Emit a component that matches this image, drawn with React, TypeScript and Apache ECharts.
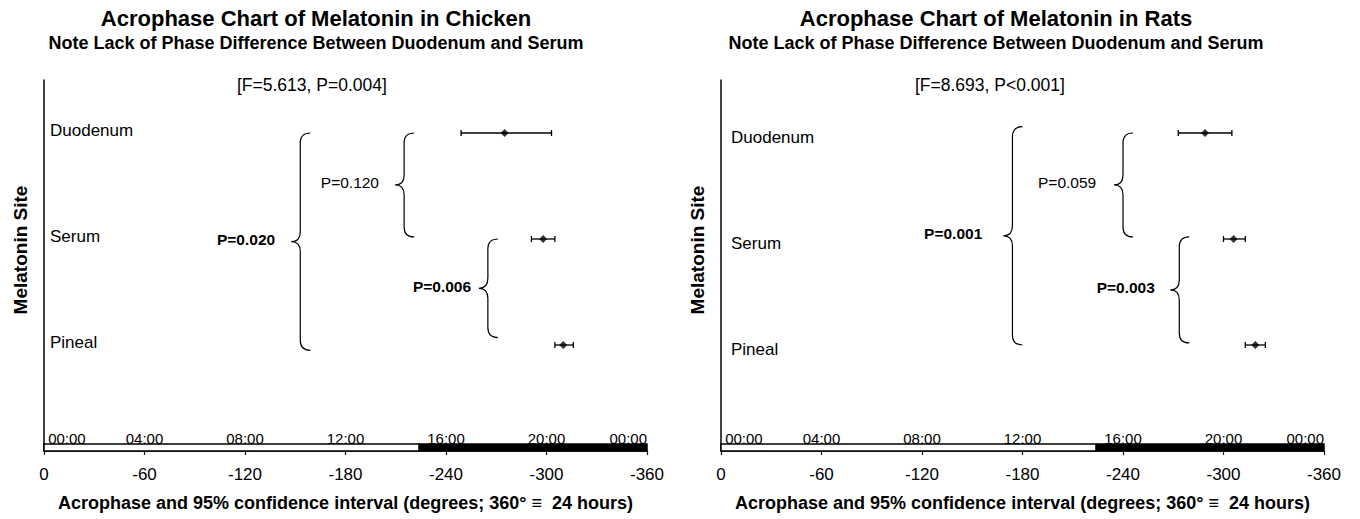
import React, { useEffect, useRef } from "react";
import * as echarts from "echarts";

const FONT = '"Liberation Sans", Arial, Helvetica, sans-serif';

// ---- data ----
const sites = ["Duodenum", "Serum", "Pineal"];
const sitePositions = [3, 2, 1];

const degreeTicks = [0, -60, -120, -180, -240, -300, -360];
const clockLabels = ["00:00", "04:00", "08:00", "12:00", "16:00", "20:00", "00:00"];

// photoperiod (light / dark) in degrees
const photoStart = [0, -224];
const photoEnd = [-224, -360];
const photoPhase = ["light", "dark"];

// Chicken
const chickenAcrophase = [-275, -298, -310];
const chickenCiLow = [-249, -291, -305];
const chickenCiHigh = [-303, -305, -316];
const chickenStat = "[F=5.613, P=0.004]";
const chickenBraceText = ["P=0.020", "P=0.120", "P=0.006"];
const chickenBraceBold = [true, false, true];
const chickenBraceAt = [-153, -215, -265];
const chickenBraceFrom = [3.0, 3.0, 2.0];
const chickenBraceTo = [0.95, 2.02, 1.07];
const chickenBraceLabelAt = [-138, -200, -255];

// Rats
const ratAcrophase = [-289, -306, -319];
const ratCiLow = [-273, -300, -313];
const ratCiHigh = [-305, -313, -325];
const ratStat = "[F=8.693, P<0.001]";
const ratBraceText = ["P=0.001", "P=0.059", "P=0.003"];
const ratBraceBold = [true, false, true];
const ratBraceAt = [-174, -240, -273.6];
const ratBraceFrom = [3.06, 3.0, 2.02];
const ratBraceTo = [1.0, 2.02, 1.02];
const ratBraceLabelAt = [-156, -224, -259];

const panels = [
  {
    title: "Acrophase Chart of Melatonin in Chicken",
    subtitle: "Note Lack of Phase Difference Between Duodenum and Serum",
    stat: chickenStat,
    acro: chickenAcrophase,
    low: chickenCiLow,
    high: chickenCiHigh,
    braceText: chickenBraceText,
    braceBold: chickenBraceBold,
    braceAt: chickenBraceAt,
    braceFrom: chickenBraceFrom,
    braceTo: chickenBraceTo,
    braceLabelAt: chickenBraceLabelAt,
  },
  {
    title: "Acrophase Chart of Melatonin in Rats",
    subtitle: "Note Lack of Phase Difference Between Duodenum and Serum",
    stat: ratStat,
    acro: ratAcrophase,
    low: ratCiLow,
    high: ratCiHigh,
    braceText: ratBraceText,
    braceBold: ratBraceBold,
    braceAt: ratBraceAt,
    braceFrom: ratBraceFrom,
    braceTo: ratBraceTo,
    braceLabelAt: ratBraceLabelAt,
  },
];

// ---- layout (styles only) ----
const layout = [
  { left: 44, titleX: 316, nameX: 20, labelMargin: 6, labelShift: -3, statX: 237 },
  { left: 721, titleX: 996, nameX: 697, labelMargin: 10, labelShift: 4, statX: 915 },
];
const GRID_TOP = 80;
const GRID_H = 371;
const GRID_W = 603;

function buildOption() {
  const grid: any[] = [];
  const xAxis: any[] = [];
  const yAxis: any[] = [];
  const series: any[] = [];
  const title: any[] = [];
  const graphic: any[] = [];

  panels.forEach((p, i) => {
    const L = layout[i];
    grid.push({ left: L.left, top: GRID_TOP, width: GRID_W, height: GRID_H, containLabel: false });

    title.push({
      text: p.title,
      subtext: p.subtitle,
      left: L.titleX,
      top: 7,
      textAlign: "center",
      padding: 0,
      itemGap: 5,
      textStyle: { fontFamily: FONT, fontSize: 22, fontWeight: "bold", color: "#000" },
      subtextStyle: { fontFamily: FONT, fontSize: 18, fontWeight: "bold", color: "#000" },
    });

    // degree axis
    xAxis.push({
      type: "value",
      gridIndex: i,
      min: -360,
      max: 0,
      interval: 60,
      inverse: true,
      position: "bottom",
      name: "Acrophase and 95% confidence interval (degrees; 360° \u2261  24 hours)",
      nameLocation: "middle",
      nameGap: 43,
      nameTextStyle: { fontFamily: FONT, fontSize: 18, fontWeight: "bold", color: "#000" },
      axisLine: { show: true, lineStyle: { color: "#000", width: 1.5 } },
      axisTick: { show: true, length: 4, lineStyle: { color: "#000", width: 1.2 } },
      axisLabel: {
        show: true,
        margin: 15,
        fontFamily: FONT,
        fontSize: 17,
        color: "#000",
        showMinLabel: true,
        showMaxLabel: true,
      },
      splitLine: { show: false },
    });
    // clock axis (same scale)
    xAxis.push({
      type: "value",
      gridIndex: i,
      min: -360,
      max: 0,
      interval: 60,
      inverse: true,
      position: "bottom",
      axisLine: { show: false },
      axisTick: { show: false },
      splitLine: { show: false },
      axisLabel: {
        show: true,
        inside: true,
        margin: 5,
        fontFamily: FONT,
        fontSize: 15,
        color: "#000",
        showMinLabel: true,
        showMaxLabel: true,
        alignMinLabel: "right",
        alignMaxLabel: "left",
        formatter: (v: number) => {
          const k = degreeTicks.indexOf(v);
          if (k < 0) return "";
          return k === 0 ? " " + clockLabels[k] : clockLabels[k];
        },
      },
    });

    yAxis.push({
      type: "value",
      gridIndex: i,
      min: 0,
      max: 3.5,
      interval: 1,
      axisLine: { show: true, lineStyle: { color: "#000", width: 1.5 } },
      axisTick: { show: false },
      splitLine: { show: false },
      axisLabel: {
        show: true,
        inside: true,
        margin: L.labelMargin,
        fontFamily: FONT,
        fontSize: 17,
        color: "#000",
        lineHeight: 20,
        verticalAlign: L.labelShift < 0 ? "bottom" : "top",
        padding: L.labelShift < 0 ? [0, 0, -7, 0] : [-6, 0, 0, 0],
        formatter: (v: number) => {
          const k = sitePositions.indexOf(v);
          return k >= 0 ? sites[k] : "";
        },
      },
    });

    const xIdx = i * 2;

    // photoperiod bar
    series.push({
      type: "custom",
      xAxisIndex: xIdx,
      yAxisIndex: i,
      silent: true,
      data: photoStart.map((s, k) => [s, photoEnd[k], k]),
      renderItem: (params: any, api: any) => {
        const a = api.coord([api.value(0), 0]);
        const b = api.coord([api.value(1), 0]);
        const dark = photoPhase[api.value(2)] === "dark";
        const x = Math.min(a[0], b[0]);
        const w = Math.abs(b[0] - a[0]);
        return {
          type: "rect",
          shape: { x, y: a[1] - 7, width: w, height: 7 },
          style: { fill: dark ? "#000" : "#fff", stroke: "#000", lineWidth: 1.5 },
        };
      },
    });

    // confidence intervals
    series.push({
      type: "custom",
      xAxisIndex: xIdx,
      yAxisIndex: i,
      silent: true,
      data: p.low.map((l, k) => [l, p.high[k], sitePositions[k]]),
      renderItem: (params: any, api: any) => {
        const y = api.value(2);
        const a = api.coord([api.value(0), y]);
        const b = api.coord([api.value(1), y]);
        const cap = 3;
        const st = { stroke: "#000", lineWidth: 1.3 };
        return {
          type: "group",
          children: [
            { type: "line", shape: { x1: a[0], y1: a[1], x2: b[0], y2: b[1] }, style: st },
            { type: "line", shape: { x1: a[0], y1: a[1] - cap, x2: a[0], y2: a[1] + cap }, style: st },
            { type: "line", shape: { x1: b[0], y1: b[1] - cap, x2: b[0], y2: b[1] + cap }, style: st },
          ],
        };
      },
    });

    // acrophase points
    series.push({
      type: "scatter",
      xAxisIndex: xIdx,
      yAxisIndex: i,
      symbol: "diamond",
      symbolSize: 8,
      itemStyle: { color: "#000" },
      data: p.acro.map((v, k) => [v, sitePositions[k]]),
    });

    // braces with P-values
    series.push({
      type: "custom",
      xAxisIndex: xIdx,
      yAxisIndex: i,
      silent: true,
      data: p.braceAt.map((x, k) => [x, p.braceFrom[k], p.braceTo[k], p.braceLabelAt[k], k]),
      renderItem: (params: any, api: any) => {
        const k = api.value(4);
        const top = api.coord([api.value(0), api.value(1)]);
        const bot = api.coord([api.value(0), api.value(2)]);
        const mid = (top[1] + bot[1]) / 2;
        const x = top[0];
        const r = 10;
        const w = 10;
        const tip = 9;
        const d =
          `M${x + w},${top[1]} Q${x},${top[1]} ${x},${top[1] + r} L${x},${mid - r} ` +
          `Q${x},${mid} ${x - tip},${mid} Q${x},${mid} ${x},${mid + r} L${x},${bot[1] - r} ` +
          `Q${x},${bot[1]} ${x + w},${bot[1]}`;
        const lab = api.coord([api.value(3), (api.value(1) + api.value(2)) / 2]);
        return {
          type: "group",
          children: [
            {
              type: "path",
              shape: { pathData: d },
              style: { fill: "none", stroke: "#000", lineWidth: 1.2 },
            },
            {
              type: "text",
              x: lab[0],
              y: mid - 2,
              style: {
                text: p.braceText[k],
                fill: "#000",
                fontFamily: FONT,
                fontSize: 15.5,
                fontWeight: p.braceBold[k] ? "bold" : "normal",
                align: "right",
                verticalAlign: "middle",
              },
            },
          ],
        };
      },
    });

    // F statistic text and y-axis name
    graphic.push({
      type: "text",
      left: L.statX,
      top: 76,
      style: { text: p.stat, fill: "#000", fontFamily: FONT, fontSize: 17.5 },
    });
    graphic.push({
      type: "text",
      x: L.nameX,
      y: 250,
      rotation: Math.PI / 2,
      style: {
        text: "Melatonin Site",
        fill: "#000",
        fontFamily: FONT,
        fontSize: 19,
        fontWeight: "bold",
        align: "center",
        verticalAlign: "middle",
      },
    });
  });

  return {
    animation: false,
    backgroundColor: "#fff",
    title,
    grid,
    xAxis,
    yAxis,
    series,
    graphic,
  };
}

export default function App() {
  const ref = useRef<HTMLDivElement>(null);
  useEffect(() => {
    if (!ref.current) return;
    const chart = echarts.init(ref.current, undefined, { renderer: "svg" });
    chart.setOption(buildOption() as any);
    return () => chart.dispose();
  }, []);
  return (
    <div
      ref={ref}
      style={{ position: "fixed", left: 0, top: 0, width: 1360, height: 519, background: "#fff" }}
    />
  );
}
